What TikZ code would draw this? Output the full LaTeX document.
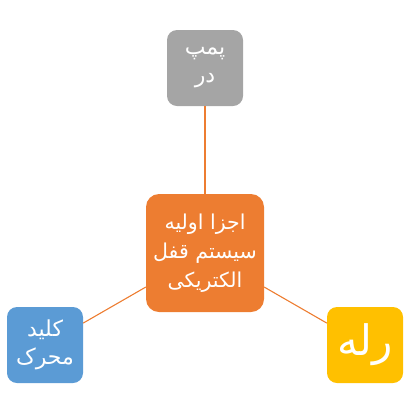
\documentclass[tikz,border=0pt]{standalone}
\usepackage{fontspec}
\newfontfamily\arabicfont[Script=Arabic]{DejaVu Sans}
\TeXXeTstate=1
\definecolor{boxgray}{HTML}{A5A5A5}
\definecolor{boxorange}{HTML}{ED7D31}
\definecolor{boxblue}{HTML}{5B9BD5}
\definecolor{boxyellow}{HTML}{FFC000}
\tikzset{
  part/.style={rounded corners=10pt, minimum size=76pt, inner sep=0pt,
    text=white, align=center, font=\arabicfont\fontsize{22}{28}\selectfont},
  link/.style={draw=boxorange, line width=1.1pt}
}
\begin{document}
\begin{tikzpicture}[x=1pt,y=-1pt]
            \useasboundingbox (0,0) rectangle (411,408);
            \node[part, fill=boxorange, minimum size=118pt, rounded corners=13pt,
              font=\arabicfont\fontsize{20.5}{29}\selectfont] (core) at (205,253)
              {\beginR اجزا اولیه\endR\\\beginR سیستم قفل\endR\\\beginR الکتریکی\endR};
            \node[part, fill=boxgray] (pump) at (205,68)
              {\beginR پمپ\endR\\\beginR در\endR};
            \node[part, fill=boxblue] (key) at (45,345)
              {\beginR کلید\endR\\\beginR محرک\endR};
            \node[part, fill=boxyellow, font=\arabicfont\fontsize{42}{48}\selectfont] (relay) at (365,345)
              {\beginR رله\endR};
            \draw[link](core)--(pump);
            \draw[link](core)--(key);
            \draw[link](core)--(relay);
            \end{tikzpicture}
\end{document}
